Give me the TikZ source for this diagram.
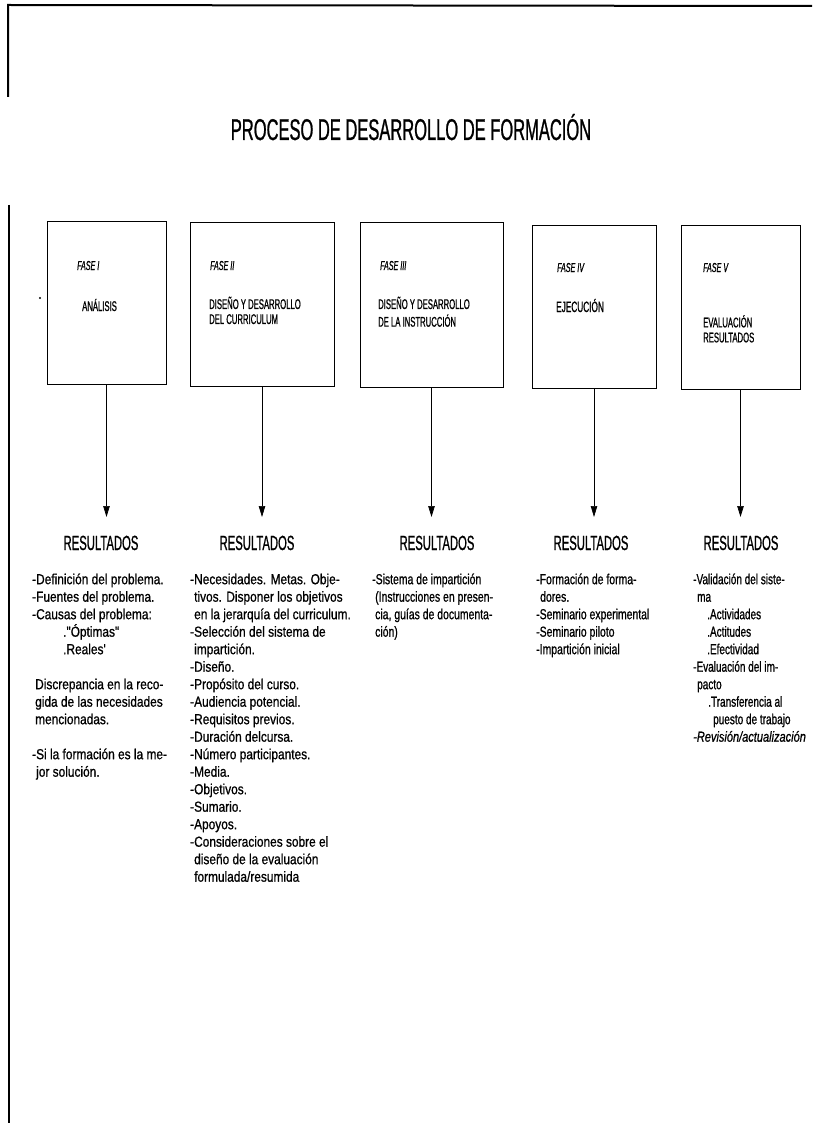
\documentclass[tikz,border=0pt]{standalone}
\usepackage{fontspec}
\setmainfont{Liberation Sans}
% condensed faces for headings and for the lists
\newfontfamily\capsfont[FakeStretch=0.55,FakeBold=0.8]{Liberation Sans}
\newfontfamily\bodywide[FakeStretch=0.82,FakeBold=0.8]{Liberation Sans}
\newfontfamily\bodymid[FakeStretch=0.72,FakeBold=0.8]{Liberation Sans}
\newfontfamily\bodynarrow[FakeStretch=0.69,FakeBold=0.8]{Liberation Sans}
\newfontfamily\bodyslant[FakeStretch=0.76,FakeBold=0.8]{Liberation Sans}
\usetikzlibrary{arrows.meta}
\begin{document}
\begin{tikzpicture}[x=1pt,y=-1pt,
  phasebox/.style={draw, line width=0.8pt, inner sep=0pt, outer sep=0pt},
  phasetext/.style={font=\capsfont\fontsize{14}{15}\selectfont, anchor=base west, inner sep=0pt, align=left},
  phasetwo/.style={phasetext, anchor=north west},
  phaselabel/.style={phasetext, font=\capsfont\itshape\fontsize{13}{15}\selectfont},
  restitle/.style={font=\capsfont\fontsize{20.5}{24}\selectfont, anchor=base, inner sep=0pt},
  body/.style={font=\bodywide\fontsize{14.5}{17.5}\selectfont, anchor=north west, inner sep=0pt, align=left},
  bodymid/.style={body, font=\bodymid\fontsize{14.5}{17.5}\selectfont},
  bodynarrow/.style={body, font=\bodynarrow\fontsize{14.5}{17.5}\selectfont},
  flow/.style={line width=0.7pt, -{Triangle[length=11pt,width=6.5pt]}},
  frame/.style={line width=2pt}
]
\useasboundingbox (0,0) rectangle (812,1123);

% page frame fragments
\coordinate (ftl) at (8,5);
\coordinate (ftr) at (812,6);
\coordinate (fle) at (8,97);
\coordinate (lbt) at (9,205);
\coordinate (lbb) at (9,1123);
\draw[frame] (fle) -- (ftl) -- (ftr);
\draw[frame] (lbt) -- (lbb);
\fill (40,298) circle (1.2pt);

% title
\node[font=\capsfont\fontsize{30}{34}\selectfont, anchor=base, inner sep=0pt] (title) at (411,140)
  {PROCESO DE DESARROLLO DE FORMACIÓN};

% phase boxes
\node[phasebox, minimum width=119pt, minimum height=163pt] (b1) at (106.5,302.5) {};
\node[phasebox, minimum width=144pt, minimum height=164pt] (b2) at (262,304) {};
\node[phasebox, minimum width=143pt, minimum height=165pt] (b3) at (431.5,304.5) {};
\node[phasebox, minimum width=124pt, minimum height=163pt] (b4) at (594,306.5) {};
\node[phasebox, minimum width=119pt, minimum height=164pt] (b5) at (740.5,307) {};

% phase labels and names (two-line names hang from the top of a strut)
\node[phaselabel] (f1) at (77,270) {FASE  I};
\node[phasetext] (n1) at (82,311) {ANÁLISIS};
\node[phaselabel] (f2) at (210,270) {FASE  II};
\node[phasetwo] (n2) at (209,296.5) {\strut DISEÑO Y DESARROLLO\\DEL CURRICULUM};
\node[phaselabel] (f3) at (380,270) {FASE  III};
\node[phasetwo] (n3) at (378,296.5) {\strut DISEÑO Y DESARROLLO\\DE LA INSTRUCCIÓN};
\node[phaselabel] (f4) at (557,272) {FASE  IV};
\node[phasetext, font=\capsfont\fontsize{15}{15}\selectfont] (n4) at (556,312) {EJECUCIÓN};
\node[phaselabel] (f5) at (703,272) {FASE V};
\node[phasetwo] (n5) at (703,315) {\strut EVALUACIÓN\\RESULTADOS};

% arrow ends
\coordinate (t1) at (106.5,517);
\coordinate (t2) at (262,517);
\coordinate (t3) at (431.5,517);
\coordinate (t4) at (594,517);
\coordinate (t5) at (740.5,517);
\draw[flow] (b1.south) -- (t1);
\draw[flow] (b2.south) -- (t2);
\draw[flow] (b3.south) -- (t3);
\draw[flow] (b4.south) -- (t4);
\draw[flow] (b5.south) -- (t5);

% results headings
\node[restitle] (r1) at (101,550) {RESULTADOS};
\node[restitle] (r2) at (257,550) {RESULTADOS};
\node[restitle] (r3) at (437,550) {RESULTADOS};
\node[restitle] (r4) at (591,550) {RESULTADOS};
\node[restitle] (r5) at (741,550) {RESULTADOS};

% results lists: first baseline = node top + 12.25 (strut height)
% results, phase I
\node[body] (l1a) at (32,571.75) {\strut-Definición del problema.\\
-Fuentes del problema.\\
-Causas del problema:\\
\hspace*{31pt}."Óptimas"\\
\hspace*{31pt}.Reales'};
\node[body] (l1b) at (35,676.75) {\strut Discrepancia en la reco-\\
gida de las necesidades\\
mencionadas.};
\node[body] (l1c) at (32,746.75) {\strut-Si la formación es la me-\\
\hspace*{4pt}jor solución.};

% results, phase II
\node[body] (l2) at (190,571.75) {\strut-Necesidades. Metas. Obje-\\
\hspace*{4pt}tivos. Disponer los objetivos\\
\hspace*{4pt}en la jerarquía del curriculum.\\
-Selección del sistema de\\
\hspace*{4pt}impartición.\\
-Diseño.\\
-Propósito del curso.\\
-Audiencia potencial.\\
-Requisitos previos.\\
-Duración delcursa.\\
-Número participantes.\\
-Media.\\
-Objetivos.\\
-Sumario.\\
-Apoyos.\\
-Consideraciones sobre el\\
\hspace*{4pt}diseño de la evaluación\\
\hspace*{4pt}formulada/resumida};

% results, phase III
\node[bodymid] (l3) at (372,571.75) {\strut-Sistema de impartición\\
\hspace*{3pt}(Instrucciones en presen-\\
\hspace*{3pt}cia, guías de documenta-\\
\hspace*{3pt}ción)};

% results, phase IV
\node[bodymid] (l4) at (536,571.75) {\strut-Formación de forma-\\
\hspace*{4pt}dores.\\
-Seminario experimental\\
-Seminario piloto\\
-Impartición inicial};

% results, phase V
\node[bodynarrow] (l5) at (693,571.75) {\strut-Validación del siste-\\
\hspace*{4pt}ma\\
\hspace*{14pt}.Actividades\\
\hspace*{14pt}.Actitudes\\
\hspace*{14pt}.Efectividad\\
-Evaluación del im-\\
\hspace*{4pt}pacto\\
\hspace*{15pt}.Transferencia al\\
\hspace*{20pt}puesto de trabajo\\
{\bodyslant\itshape -Revisión/actualización}};
\end{tikzpicture}
\end{document}
